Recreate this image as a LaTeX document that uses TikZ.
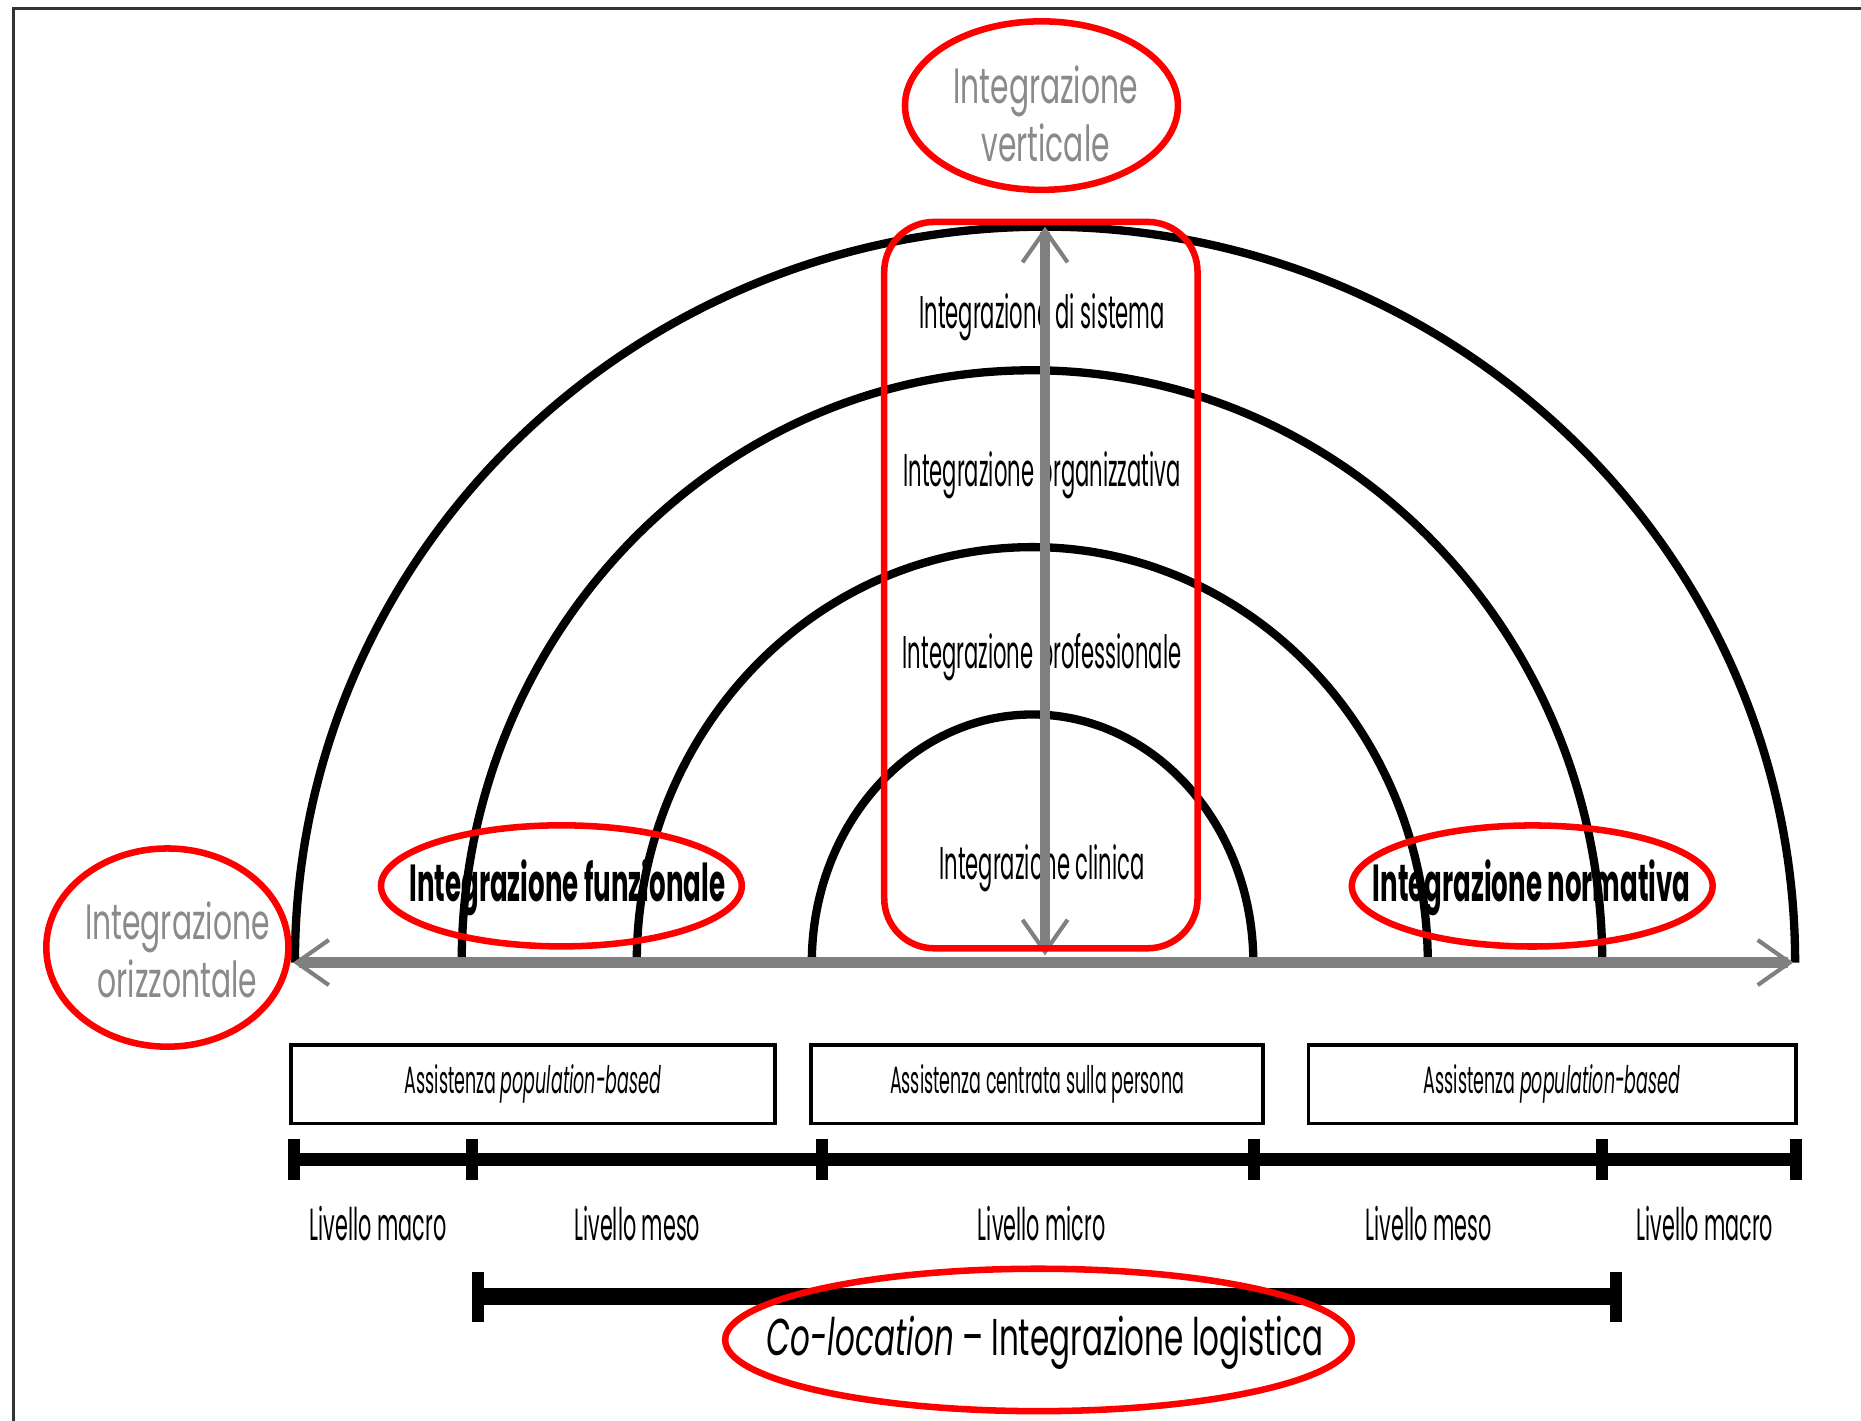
\documentclass[tikz,border=0pt]{standalone}
\usepackage{fontspec}
\setmainfont{Poppins}[FakeStretch=0.46]
\newfontfamily\widecond{Poppins}[FakeStretch=0.6]
\newfontfamily\fieldcond{Poppins}[FakeStretch=0.5]
\usetikzlibrary{arrows.meta}
\definecolor{axisgray}{HTML}{808080}
\definecolor{notegray}{HTML}{8A8A8A}
\definecolor{markred}{HTML}{FF0000}

\begin{document}
\begin{tikzpicture}[
x=0.1mm, y=0.1mm,
>={Straight Barb[length=2.7mm, width=3.8mm, line width=0.35mm]},
halfring/.style={line width=0.7mm, black},
axisline/.style={<->, line width=0.9mm, axisgray},
redmark/.style={line width=0.55mm, markred},
intlabel/.style={anchor=base, font=\fontsize{11pt}{13pt}\selectfont},
fieldlabel/.style={anchor=base, font=\fieldcond\bfseries\fontsize{12.5pt}{14pt}\selectfont},
notelabel/.style={align=center, text=notegray, font=\widecond\fontsize{11.9pt}{13.8pt}\selectfont},
carebox/.style={draw, line width=0.3mm, inner sep=0pt, minimum height=6.65mm, font=\fontsize{9.1pt}{11pt}\selectfont},
levlabel/.style={anchor=base, font=\fontsize{10.8pt}{12pt}\selectfont},
scalebar/.style={line width=1.1mm, black},
levtick/.style={line width=1mm, black},
colocbar/.style={line width=1.4mm, black}
]

\useasboundingbox (0,0) rectangle (1568,1197);
\def\base{386}

%%% frame
\draw[line width=0.25mm, black!80] (11,0) -- (11,1190) -- (1568,1190);

%%% half rings
\foreach \l/\r/\ry in {248.5/1512.5/620, 389/1350/499, 536.5/1203/350, 684/1056/209}{
	\pgfmathsetmacro{\rx}{(\r-\l)/2}
	\draw[halfring] (\l,\base) arc[start angle=180, end angle=0, x radius=\rx, y radius=\ry];
}

%%% integration levels
\foreach \y/\txt [count=\i] in {
	920/Integrazione di sistema,
	787/Integrazione organizzativa,
	634/Integrazione professionale,
	456/Integrazione clinica
	}{
	\node[intlabel] (lev\i) at (878,\y) {\txt};
}
\node[fieldlabel] (funz) at (478,437) {Integrazione funzionale};
\node[fieldlabel] (norm) at (1290.5,437) {Integrazione normativa};

%%% axes
\coordinate (hl) at (247,\base);
\coordinate (hr) at (1511,\base);
\coordinate (vb) at (880.5,392);
\coordinate (vt) at (880.5,1006);
\draw[axisline] (hl) -- (hr);
\draw[axisline] (vb) -- (vt);

\node[notelabel] (vert) at (881,1101) {Integrazione\\verticale};
\node[notelabel] (oriz) at (149.5,396.5) {Integrazione\\orizzontale};

%%% care boxes
\foreach \x/\w/\txt [count=\i] in {
	449/408/Assistenza \emph{population-based},
	873.75/380.5/Assistenza centrata sulla persona,
	1307.75/410.5/Assistenza \emph{population-based}
	}{
	\node[carebox, minimum width=\w*0.1mm] (care\i) at (\x,283.5) {\txt};
}

%%% levels bar
\foreach \x [count=\i] in {247.5, 397.8, 692.6, 1056.6, 1350, 1513}
	\coordinate (t\i) at (\x,220);
\draw[scalebar] (t1) -- (t6);
\foreach \i in {1,...,6}
	\draw[levtick] (t\i)++(0,-17) -- ++(0,34);

\foreach \x/\txt [count=\i] in {
	318.6/Livello macro,
	537/Livello meso,
	877.7/Livello micro,
	1203.6/Livello meso,
	1436.6/Livello macro
	}{
	\node[levlabel] (liv\i) at (\x,152) {\txt};
}

%%% co-location
\coordinate (cl) at (402.5,104.5);
\coordinate (cr) at (1361.6,104.5);
\draw[colocbar] (cl) -- (cr);
\draw[levtick] (cl)++(0,-21) -- ++(0,42);
\draw[levtick] (cr)++(0,-21) -- ++(0,42);
\node[anchor=base, font=\widecond\fontsize{12.4pt}{15pt}\selectfont] (coloc) at (880.5,55) {\emph{Co-location} – Integrazione logistica};

%%% red marks
\draw[redmark] (877.5,1108) ellipse[x radius=115, y radius=71];
\draw[redmark] (141,398.6) ellipse[x radius=102, y radius=83.5];
\draw[redmark] (473,450.6) ellipse[x radius=152, y radius=51];
\draw[redmark] (1291,450.5) ellipse[x radius=152, y radius=51];
\draw[redmark] (875,68) ellipse[x radius=264, y radius=60];
\draw[redmark, rounded corners=4.2mm] (745,398) rectangle (1009,1010);

\end{tikzpicture}
\end{document}
